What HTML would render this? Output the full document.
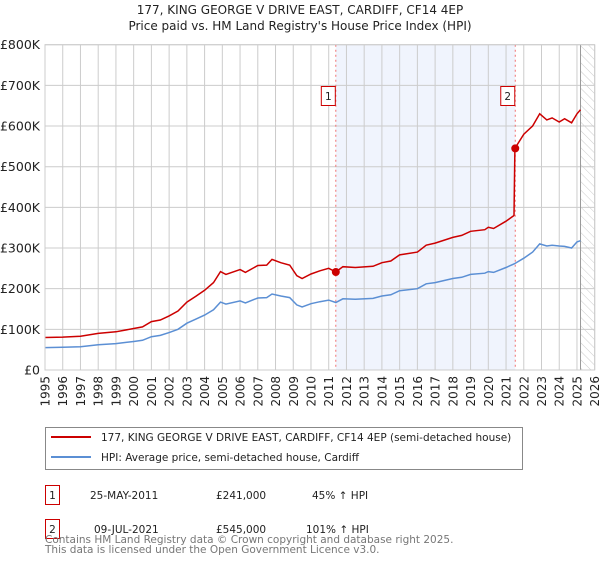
<!DOCTYPE html>
<html><head><meta charset="utf-8"><style>
body{margin:0;background:#fff;font-family:"Liberation Sans","DejaVu Sans",sans-serif;}
svg text{font-family:"DejaVu Sans","Liberation Sans",sans-serif;}
</style></head><body>
<svg id="chart" width="600" height="560" viewBox="0 0 600 560" xmlns="http://www.w3.org/2000/svg">
<defs><pattern id="hatch" width="6" height="6" patternUnits="userSpaceOnUse" patternTransform="rotate(-45)"><line x1="0" y1="0" x2="0" y2="6" stroke="#ccc" stroke-width="1"/></pattern></defs>
<text x="300" y="14" text-anchor="middle" font-size="12" fill="#222">177, KING GEORGE V DRIVE EAST, CARDIFF, CF14 4EP</text>
<text x="300" y="30" text-anchor="middle" font-size="12" fill="#222">Price paid vs. HM Land Registry's House Price Index (HPI)</text>
<g id="plot"></g>
<g>
<rect x="45.5" y="427.5" width="477" height="42" fill="#fff" stroke="#888"/>
<line x1="51" y1="437" x2="91" y2="437" stroke="#cc0000" stroke-width="2"/>
<text x="101" y="441" font-size="10.5" fill="#222">177, KING GEORGE V DRIVE EAST, CARDIFF, CF14 4EP (semi-detached house)</text>
<line x1="51" y1="457" x2="91" y2="457" stroke="#5b8fd4" stroke-width="2"/>
<text x="101" y="461" font-size="10.5" fill="#222">HPI: Average price, semi-detached house, Cardiff</text>
</g>
<g>
<rect x="45.5" y="485.5" width="14" height="19" fill="#fff" stroke="#cc0000"/>
<text x="52.5" y="499" text-anchor="middle" font-size="10.5" fill="#222">1</text>
<text x="90" y="499" font-size="10.5" fill="#222">25-MAY-2011</text>
<text x="216" y="499" font-size="10.5" fill="#222">£241,000</text>
<text x="312" y="499" font-size="10.5" fill="#222">45% ↑ HPI</text>
</g>
<g>
<rect x="45.5" y="519.5" width="14" height="19" fill="#fff" stroke="#cc0000"/>
<text x="52.5" y="533" text-anchor="middle" font-size="10.5" fill="#222">2</text>
<text x="94" y="533" font-size="10.5" fill="#222">09-JUL-2021</text>
<text x="216" y="533" font-size="10.5" fill="#222">£545,000</text>
<text x="306" y="533" font-size="10.5" fill="#222">101% ↑ HPI</text>
</g>
<text x="45" y="543" font-size="10.5" fill="#777">Contains HM Land Registry data © Crown copyright and database right 2025.</text>
<text x="45" y="553" font-size="10.5" fill="#777">This data is licensed under the Open Government Licence v3.0.</text>
</svg>
<script>
const yearsX=[1995,1996,1997,1998,1999,2000,2000.5,2001,2001.5,2002,2002.5,2003,2003.5,2004,2004.5,2004.9,2005.2,2006,2006.3,2007,2007.5,2007.8,2008.3,2008.8,2009.2,2009.5,2010,2010.5,2011,2011.4,2011.8,2012.5,2013.5,2014,2014.5,2015,2016,2016.5,2017,2018,2018.5,2019,2019.8,2020,2020.3,2021,2021.45,2021.5,2022,2022.5,2022.9,2023.3,2023.6,2024,2024.3,2024.7,2025,2025.2];
const hpiValues=[55,56,57,62,65,70,73,82,85,92,100,115,125,135,148,167,162,170,165,177,178,187,182,178,160,155,163,168,172,166,175,174,176,182,185,195,200,212,215,225,228,235,238,242,240,252,261,262,275,290,310,305,307,305,304,300,315,318];
const priceValues=[80,81,83,90,94,102,106,119,123,133,145,167,181,196,215,242,235,247,240,257,258,272,264,258,232,225,236,244,250,241,254,252,255,264,268,283,290,307,312,326,331,341,345,351,348,366,380,545,580,600,630,615,620,610,618,608,630,640];
const saleYears=[2011.4,2021.52];
const saleValues=[241,545];
const saleLabels=["1","2"];
const yTicks=[0,100,200,300,400,500,600,700,800];
const yTickLabels=["£0","£100K","£200K","£300K","£400K","£500K","£600K","£700K","£800K"];
const xTicks=[1995,1996,1997,1998,1999,2000,2001,2002,2003,2004,2005,2006,2007,2008,2009,2010,2011,2012,2013,2014,2015,2016,2017,2018,2019,2020,2021,2022,2023,2024,2025,2026];
const NS="http://www.w3.org/2000/svg";
const X0=45,X1=594.7,Y0=370,Y1=44.7;
const xs=v=>X0+(v-1995)/(2026-1995)*(X1-X0);
const ys=v=>Y0-v/800*(Y0-Y1);
const g=document.getElementById('plot');
function mk(t,a){const e=document.createElementNS(NS,t);for(const k in a)e.setAttribute(k,a[k]);g.appendChild(e);return e;}
let e;
e=mk('rect',{x:X0,y:Y1,width:X1-X0,height:Y0-Y1,fill:'#fff'});


e=mk('rect',{x:xs(saleYears[0]),y:Y1,width:xs(saleYears[1])-xs(saleYears[0]),height:Y0-Y1,fill:'#f0f4fd'});


e=mk('rect',{x:xs(2025.2),y:Y1,width:X1-xs(2025.2),height:Y0-Y1,fill:'url(#hatch)'});


xTicks.forEach(t=>{
 e=mk('line',{x1:xs(t),x2:xs(t),y1:Y1,y2:Y0,stroke:'#ccc','stroke-width':1});
 
 
 e=mk('text',{x:0,y:0,transform:`translate(${xs(t)+4.5},${Y0+6}) rotate(-90)`,'text-anchor':'end','font-size':12,fill:'#222'});
 e.textContent=t;
 
 
});
yTicks.forEach((t,i)=>{
 e=mk('line',{x1:X0,x2:X1,y1:ys(t),y2:ys(t),stroke:'#ccc','stroke-width':1});
 
 
 e=mk('text',{x:X0-5,y:ys(t)+4.5,'text-anchor':'end','font-size':12.5,fill:'#222'});
 e.textContent=yTickLabels[i];
 
 
});
e=mk('line',{x1:xs(2025.2),x2:xs(2025.2),y1:Y1,y2:Y0,stroke:'#999','stroke-width':1});


saleYears.forEach((s,i)=>{
 e=mk('line',{x1:xs(s),x2:xs(s),y1:Y1,y2:Y0,stroke:'#f07070','stroke-width':1,'stroke-dasharray':'2,3'});
 
 
});
const pts=(vals)=>yearsX.map((x,i)=>xs(x).toFixed(1)+','+ys(vals[i]).toFixed(1)).join(' ');
e=mk('polyline',{points:pts(hpiValues),fill:'none',stroke:'#5b8fd4','stroke-width':1.5});


e=mk('polyline',{points:pts(priceValues),fill:'none',stroke:'#cc0000','stroke-width':1.5});


saleYears.forEach((s,i)=>{
 e=mk('circle',{cx:xs(s),cy:ys(saleValues[i]),r:4,fill:'#cc0000'});
 
 
 e=mk('rect',{x:xs(s)-14.5,y:86.5,width:14,height:19,fill:'#fff',stroke:'#cc0000'});
 
 
 e=mk('text',{x:xs(s)-7.5,y:100,'text-anchor':'middle','font-size':10.5,fill:'#222'});
 e.textContent=saleLabels[i];
 
 
});
e=mk('rect',{x:X0,y:Y1,width:X1-X0,height:Y0-Y1,fill:'none',stroke:'#ccc'});


</script>
</body></html>
